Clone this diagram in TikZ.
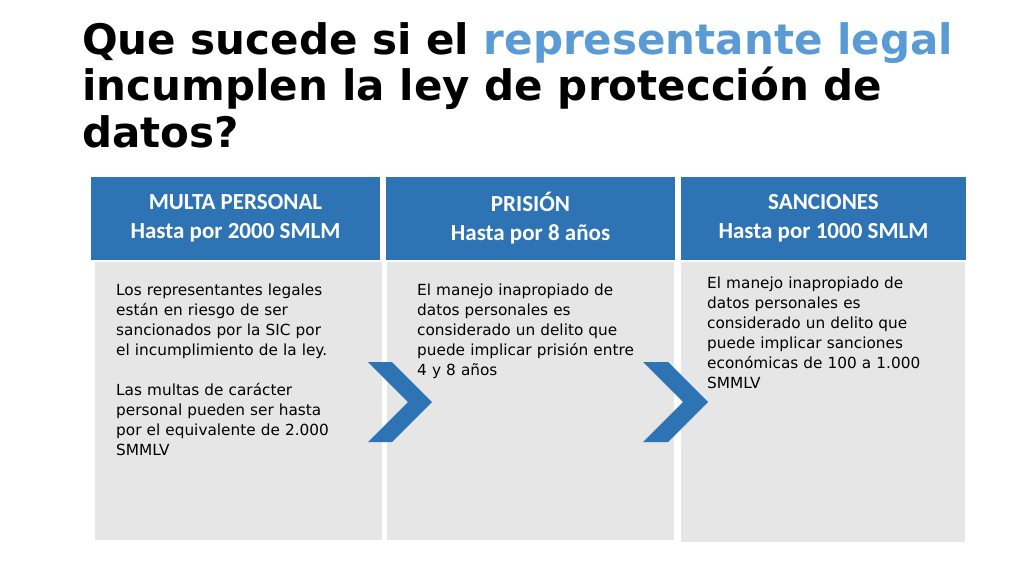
\documentclass[tikz,border=0pt]{standalone}
\usepackage{fontspec}
\setmainfont{DejaVu Sans}
\newfontfamily\titlefont{DejaVu Sans}
\newfontfamily\headfont{Carlito}
\definecolor{hblue}{HTML}{2E74B5}
\definecolor{tblue}{HTML}{5B9BD5}
\definecolor{bodygray}{HTML}{E6E6E6}
\begin{document}
\begin{tikzpicture}[x=1pt,y=-1pt,
  head/.style={fill=hblue,draw=white,line width=1pt,minimum width=290pt,minimum height=84pt,anchor=north west,text=white,font=\headfont\bfseries\fontsize{23}{29}\selectfont,align=center,inner sep=0pt},
  bodybox/.style={fill=bodygray,minimum width=287pt,minimum height=278pt,anchor=north west,inner sep=0pt},
  btext/.style={anchor=north west,align=left,text width=260pt,font=\fontsize{15.3}{20}\selectfont,inner sep=0pt},
  chev/.style={fill=hblue,draw=none}]
\useasboundingbox (0,0) rectangle (1024,576);
\fill[white] (0,0) rectangle (1024,576);
\node[anchor=north west,align=left,inner sep=0pt,font=\titlefont\bfseries\fontsize{42}{46.5}\selectfont] (title) at (82,22)
 {Que sucede si el \textcolor{tblue}{representante legal}\\incumplen la ley de protección de\\datos?};
\node[bodybox] (b1) at (95,262) {};
\node[bodybox] (b2) at (387,262) {};
\node[bodybox,minimum width=284pt,minimum height=280pt] (b3) at (681,262) {};
\node[head] (h1) at (90,176) {MULTA PERSONAL\\Hasta por 2000 SMLM};
\node[head] (h2) at (385,176) {PRISIÓN\\Hasta por 8 años};
\node[head,minimum width=286pt] (h3) at (680,176) {SANCIONES\\Hasta por 1000 SMLM};
\node[btext] (t1) at (116,284) {Los representantes legales\\están en riesgo de ser\\sancionados por la SIC por\\el incumplimiento de la ley.\\[20pt]Las multas de carácter\\personal pueden ser hasta\\por el equivalente de 2.000\\SMMLV};
\node[btext] (t2) at (417,284) {El manejo inapropiado de\\datos personales es\\considerado un delito que\\puede implicar prisión entre\\4 y 8 años};
\node[btext] (t3) at (707,277) {El manejo inapropiado de\\datos personales es\\considerado un delito que\\puede implicar sanciones\\económicas de 100 a 1.000\\SMMLV};
\fill[chev] (368,362) -- (392,362) -- (432,402) -- (392,442) -- (368,442) -- (408,402) -- cycle;
\fill[chev] (643,362) -- (668,362) -- (708,402) -- (668,442) -- (643,442) -- (683,402) -- cycle;
\end{tikzpicture}
\end{document}
